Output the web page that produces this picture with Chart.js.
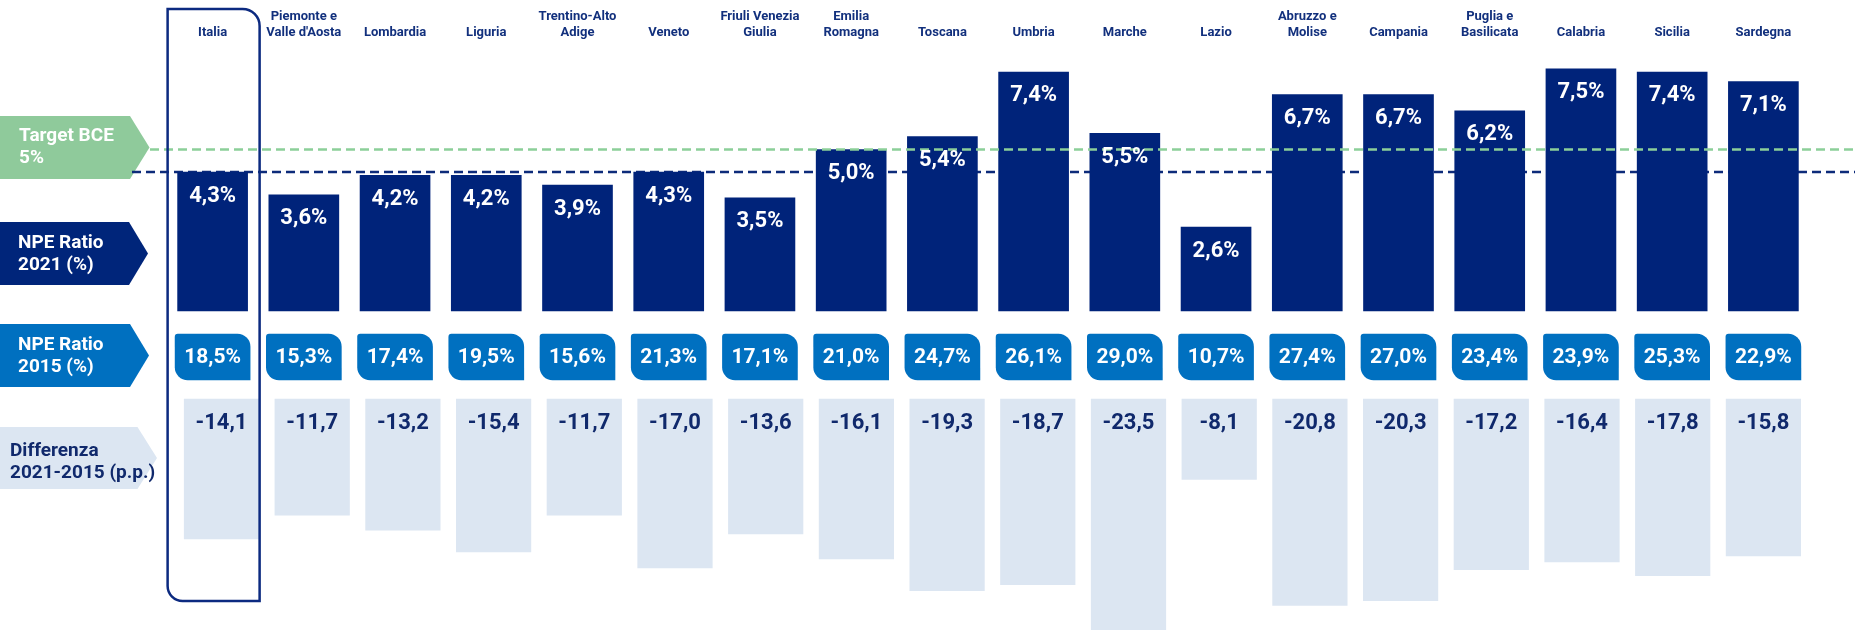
<!DOCTYPE html>
<html>
<head>
<meta charset="utf-8">
<script src="https://cdn.jsdelivr.net/npm/chart.js@4.4.1/dist/chart.umd.min.js"></script>
<style>
  html, body { margin: 0; padding: 0; background: #fff; }
  #wrap { width: 1855px; height: 630px; }
</style>
</head>
<body>
<div id="wrap"><canvas id="chart" width="1855" height="630"></canvas></div>
<script>
const regions = ['Italia', ['Piemonte e', "Valle d'Aosta"], 'Lombardia', 'Liguria', ['Trentino-Alto', 'Adige'],
  'Veneto', ['Friuli Venezia', 'Giulia'], ['Emilia', 'Romagna'], 'Toscana', 'Umbria', 'Marche', 'Lazio',
  ['Abruzzo e', 'Molise'], 'Campania', ['Puglia e', 'Basilicata'], 'Calabria', 'Sicilia', 'Sardegna'];
const npe2021 = [4.3, 3.6, 4.2, 4.2, 3.9, 4.3, 3.5, 5.0, 5.4, 7.4, 5.5, 2.6, 6.7, 6.7, 6.2, 7.5, 7.4, 7.1];
const npe2015 = [18.5, 15.3, 17.4, 19.5, 15.6, 21.3, 17.1, 21.0, 24.7, 26.1, 29.0, 10.7, 27.4, 27.0, 23.4, 23.9, 25.3, 22.9];
const diff = [-14.1, -11.7, -13.2, -15.4, -11.7, -17.0, -13.6, -16.1, -19.3, -18.7, -23.5, -8.1, -20.8, -20.3, -17.2, -16.4, -17.8, -15.8];
const targetBce = 5;
const rowLabels = [['Target BCE', '5%'], ['NPE Ratio', '2021 (%)'], ['NPE Ratio', '2015 (%)'], ['Differenza', '2021-2015 (p.p.)']];

const FONT = 'Roboto, "Noto Sans", sans-serif';
const NAVY = '#00237a';
const BLUE = '#0070c0';
const LIGHT = '#dce6f2';
const GREEN = '#8fca9b';
const TEXT_NAVY = '#10296c';

// left row headers (arrow shapes)
const arrows = [
  { top: 116, bottom: 179, flat: 130, tip: 149.5, fill: GREEN, color: '#fff', x: 19, mid: 147.5, lines: rowLabels[0] },
  { top: 222, bottom: 285, flat: 129, tip: 148, fill: '#00257a', color: '#fff', x: 18, mid: 254, lines: rowLabels[1] },
  { top: 324, bottom: 387, flat: 130, tip: 149, fill: BLUE, color: '#fff', x: 18, mid: 356, lines: rowLabels[2] },
  { top: 427, bottom: 489, flat: 137.5, tip: 157, fill: LIGHT, color: TEXT_NAVY, x: 10, mid: 462.5, lines: rowLabels[3] }
];

// the difference row sits on a slightly narrower grid than the rows above
const diffRow = { firstCenter: 221.5, lastCenter: 1763.4 };
function diffTransform(chart) {
  const x = chart.scales.x;
  const p0 = x.getPixelForValue(0), p1 = x.getPixelForValue(regions.length - 1);
  const s = (diffRow.lastCenter - diffRow.firstCenter) / (p1 - p0);
  return { s, a: diffRow.firstCenter - s * p0 };
}

const fmt = v => v.toFixed(1).replace('.', ',');

function dashLine(ctx, x0, x1, y, color) {
  ctx.save();
  ctx.strokeStyle = color;
  ctx.lineWidth = 2.5;
  ctx.setLineDash([9, 5]);
  ctx.beginPath();
  ctx.moveTo(x0, y);
  ctx.lineTo(x1, y);
  ctx.stroke();
  ctx.restore();
}

const overlay = {
  id: 'overlay',
  beforeDatasetsDraw(chart) {
    const { ctx } = chart;
    const x = chart.scales.x;
    const y = chart.scales.y;

    arrows.forEach(a => {
      ctx.save();
      ctx.fillStyle = a.fill;
      ctx.beginPath();
      ctx.moveTo(0, a.top);
      ctx.lineTo(a.flat, a.top);
      ctx.lineTo(a.tip, (a.top + a.bottom) / 2);
      ctx.lineTo(a.flat, a.bottom);
      ctx.lineTo(0, a.bottom);
      ctx.closePath();
      ctx.fill();
      ctx.fillStyle = a.color;
      ctx.font = 'bold 19px ' + FONT;
      ctx.textAlign = 'left';
      ctx.textBaseline = 'middle';
      ctx.fillText(a.lines[0], a.x, a.mid - 11);
      ctx.fillText(a.lines[1], a.x, a.mid + 11);
      ctx.restore();
    });

    // Italia reference line (behind bars)
    dashLine(ctx, 132, chart.width, y.getPixelForValue(npe2021[0]), '#0d2b7a');

    // category labels
    ctx.save();
    ctx.font = 'bold 13px ' + FONT;
    ctx.fillStyle = '#12307d';
    ctx.textAlign = 'center';
    ctx.textBaseline = 'middle';
    regions.forEach((r, i) => {
      const lines = Array.isArray(r) ? r : [r];
      const cx = x.getPixelForValue(i);
      lines.forEach((t, k) => ctx.fillText(t, cx, 33 - (lines.length - 1 - k) * 16));
    });
    ctx.restore();
  },
  beforeDatasetDraw(chart, args) {
    if (args.index !== 2) return;
    const { s, a } = diffTransform(chart);
    chart.ctx.save();
    chart.ctx.translate(a, 0);
    chart.ctx.scale(s, 1);
  },
  afterDatasetDraw(chart, args) {
    if (args.index === 2) chart.ctx.restore();
  },
  afterDatasetsDraw(chart) {
    const { ctx } = chart;
    const x = chart.scales.x;
    const y = chart.scales.y;

    // target BCE line (over bars)
    dashLine(ctx, 150, chart.width, y.getPixelForValue(targetBce), '#8ccf99');

    ctx.save();
    ctx.textAlign = 'center';
    ctx.textBaseline = 'middle';
    ctx.font = 'bold 22px ' + FONT;
    ctx.fillStyle = '#fff';
    chart.getDatasetMeta(0).data.forEach((el, i) => {
      ctx.fillText(fmt(npe2021[i]) + '%', el.x, el.y + 24);
    });
    ctx.font = 'bold 21px ' + FONT;
    chart.getDatasetMeta(1).data.forEach((el, i) => {
      ctx.fillText(fmt(npe2015[i]) + '%', el.x, (el.y + el.base) / 2 + 1);
    });
    ctx.font = 'bold 22px ' + FONT;
    ctx.fillStyle = TEXT_NAVY;
    const { s, a } = diffTransform(chart);
    chart.getDatasetMeta(2).data.forEach((el, i) => {
      ctx.fillText(fmt(diff[i]), a + s * el.x, el.base + 25);
    });
    ctx.restore();

    // Italia highlight frame
    const cx = x.getPixelForValue(0);
    const l = cx - 45, r = cx + 47, t = 9, b = 601;
    ctx.save();
    ctx.strokeStyle = '#0c2a80';
    ctx.lineWidth = 2.5;
    ctx.beginPath();
    ctx.moveTo(l, t);
    ctx.lineTo(r - 17, t);
    ctx.arcTo(r, t, r, t + 17, 17);
    ctx.lineTo(r, b);
    ctx.lineTo(l + 15, b);
    ctx.arcTo(l, b, l, b - 15, 15);
    ctx.closePath();
    ctx.stroke();
    ctx.restore();
  }
};

new Chart(document.getElementById('chart'), {
  type: 'bar',
  data: {
    labels: regions,
    datasets: [
      {
        label: 'NPE Ratio 2021 (%)',
        data: npe2021,
        yAxisID: 'y',
        backgroundColor: NAVY,
        barThickness: 70,
        grouped: false
      },
      {
        label: 'NPE Ratio 2015 (%)',
        data: npe2015.map(() => [0, 1]),
        yAxisID: 'yBox',
        backgroundColor: BLUE,
        barThickness: 75,
        borderSkipped: false,
        borderRadius: { topLeft: 3, topRight: 13, bottomLeft: 13, bottomRight: 0 },
        grouped: false
      },
      {
        label: 'Differenza 2021-2015 (p.p.)',
        data: diff,
        yAxisID: 'yDiff',
        backgroundColor: LIGHT,
        barThickness: 75,
        clip: false,
        grouped: false
      }
    ]
  },
  options: {
    responsive: false,
    animation: false,
    events: [],
    layout: { padding: { left: 167, right: 46, top: 0, bottom: 0 } },
    plugins: { legend: { display: false }, tooltip: { enabled: false } },
    scales: {
      x: { type: 'category', display: false },
      y: { display: false, min: -9.876, max: 9.6285 },
      yBox: { display: false, min: -5.4348, max: 8.2609 },
      yDiff: { display: false, min: -23.263, max: 40.18 }
    }
  },
  plugins: [overlay]
});
</script>
</body>
</html>
